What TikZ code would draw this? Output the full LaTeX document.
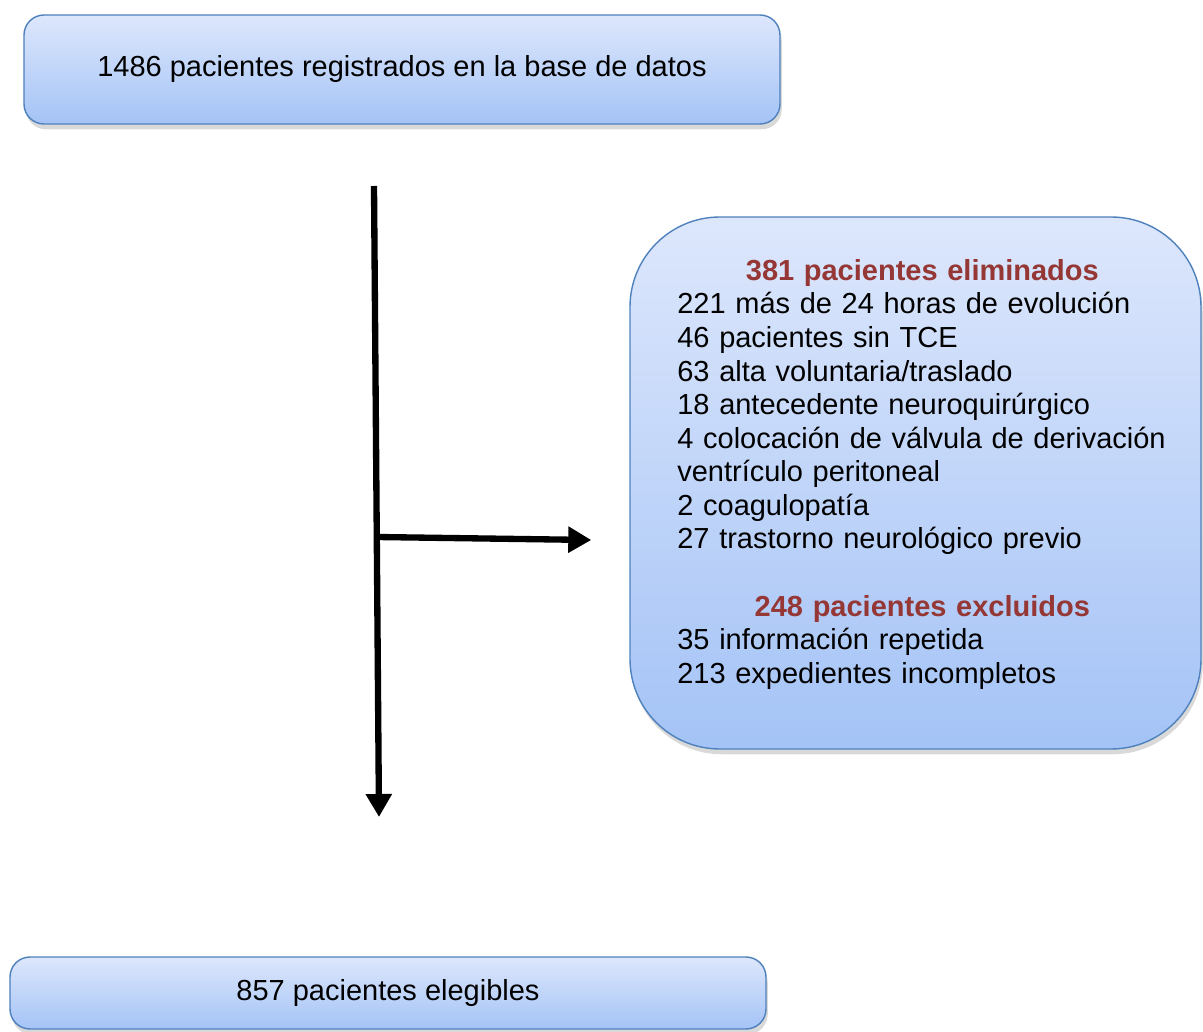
\documentclass[tikz,border=0pt]{standalone}
\usepackage{fontspec}
\setmainfont{Liberation Sans}
\usetikzlibrary{arrows.meta, shadows}

\definecolor{boxline}{RGB}{79,129,189}
\definecolor{boxtop}{RGB}{221,231,252}
\definecolor{boxbottom}{RGB}{164,195,246}
\definecolor{headred}{RGB}{149,55,53}

\begin{document}
\begin{tikzpicture}[%
        > = {Triangle[length = 0.46cm, width = 0.5cm]},
        box/.style = {
            draw = boxline, line width = 0.8pt,
            top color = boxtop, bottom color = boxbottom,
            drop shadow = {shadow xshift = 1pt, shadow yshift = -3pt, opacity = 0.3}
        },
        flow/.style = {->, line width = 3.6pt},
        every node/.style = {font = \fontsize{16.5}{19.1}\selectfont}
    ]

        % Page frame.
        \useasboundingbox (0, 0) rectangle (24.06, -20.64);

        % Positions of the arrow ends.
        \coordinate (trunktop) at (7.48, -3.72);
        \coordinate (trunkend) at (7.58, -16.34);
        \coordinate (split) at (7.54, -10.74);

        % The three boxes.
        \node[box, rounded corners = 0.4cm, minimum width = 15.12cm, minimum height = 2.18cm]
            (total) at (8.04, -1.39) {1486 pacientes registrados en la base de datos};
        \node[box, rounded corners = 1.8cm, minimum width = 11.42cm, minimum height = 10.64cm]
            (excl) at (18.31, -9.66) {};
        \node[box, rounded corners = 0.4cm, minimum width = 15.12cm, minimum height = 1.44cm]
            (elig) at (7.76, -19.86) {857 pacientes elegibles};

        % Text of the side box.
        \node[anchor = north west, text width = 9.8cm, align = left, inner sep = 0pt]
            (excltext) at (13.54, -5.18) {%
            {\centering\color{headred}\bfseries 381 pacientes eliminados\par}
            221 más de 24 horas de evolución\\
            46 pacientes sin TCE\\
            63 alta voluntaria/traslado\\
            18 antecedente neuroquirúrgico\\
            4 colocación de válvula de derivación\\
            ventrículo peritoneal\\
            2 coagulopatía\\
            27 trastorno neurológico previo\par
            \vspace{19.1pt}
            {\centering\color{headred}\bfseries 248 pacientes excluidos\par}
            35 información repetida\\
            213 expedientes incompletos};

        % Main flow and the branch to the side box.
        \draw[flow] (trunktop) to (trunkend);
        \draw[flow] (split) to ([xshift = -0.76cm, yshift = -1.14cm] excl.west);
    \end{tikzpicture}
\end{document}
